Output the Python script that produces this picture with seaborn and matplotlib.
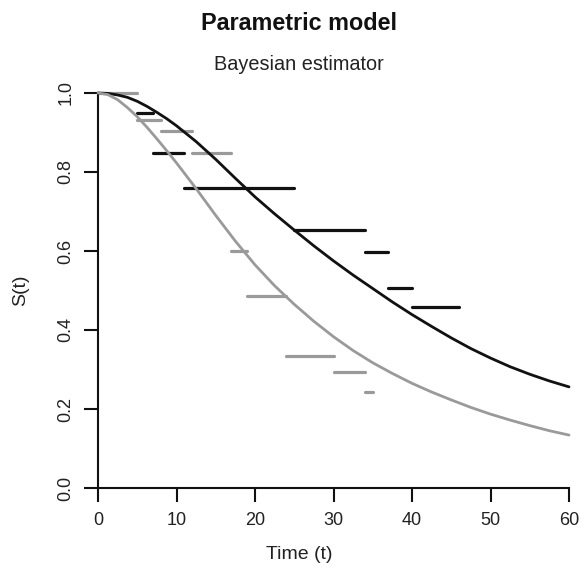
import numpy as np
import pandas as pd
import matplotlib
matplotlib.use("Agg")
import matplotlib.pyplot as plt
import seaborn as sns

# waktu (t) untuk kurva parametrik
time_grid = [0, 1.25, 2.5, 3.75, 5, 6.25, 7.5, 8.75, 10, 12.5, 15, 17.5, 20,
             22.5, 25, 27.5, 30, 32.5, 35, 37.5, 40, 42.5, 45, 47.5, 50,
             52.5, 55, 57.5, 60]

# kurva S(t) hitam dan abu-abu
surv_black = [1.000, 0.999, 0.995, 0.989, 0.979, 0.966, 0.951, 0.935, 0.917,
              0.877, 0.832, 0.784, 0.737, 0.694, 0.653, 0.613, 0.575, 0.539,
              0.505, 0.471, 0.439, 0.409, 0.380, 0.353, 0.329, 0.307, 0.288,
              0.271, 0.256]
surv_gray = [1.000, 0.996, 0.983, 0.963, 0.940, 0.913, 0.884, 0.854, 0.823,
             0.758, 0.690, 0.625, 0.565, 0.512, 0.465, 0.422, 0.383, 0.348,
             0.317, 0.290, 0.265, 0.243, 0.223, 0.204, 0.187, 0.172, 0.158,
             0.145, 0.134]

# segmen horizontal (interval) hitam
seg_black_start = [5, 7, 11, 25, 34, 37, 40]
seg_black_end = [7, 11, 25, 34, 37, 40, 46]
seg_black_s = [0.950, 0.849, 0.760, 0.653, 0.598, 0.506, 0.459]

# segmen horizontal abu-abu
seg_gray_start = [0, 5, 8, 12, 17, 19, 24, 30, 34]
seg_gray_end = [5, 8, 12, 17, 19, 24, 30, 34, 35]
seg_gray_s = [1.000, 0.932, 0.905, 0.849, 0.601, 0.485, 0.334, 0.293, 0.244]

x_ticks = [0, 10, 20, 30, 40, 50, 60]
y_ticks = [0.0, 0.2, 0.4, 0.6, 0.8, 1.0]

BLACK = "#111111"
GRAY = "#9a9a9a"

sns.set_theme(style="ticks")
plt.rcParams['font.family'] = ['Liberation Sans', 'DejaVu Sans']

df_curve = pd.DataFrame({
    't': time_grid * 2,
    'S': surv_black + surv_gray,
    'grup': ['hitam'] * len(time_grid) + ['abu'] * len(time_grid),
})

W, H = 584, 568
fig = plt.figure(figsize=(W / 100, H / 100), dpi=100)
ax = fig.add_axes([98 / W, 1 - 488 / H, (569 - 98) / W, (488 - 93) / H])

# segmen dulu, kurva di atasnya
ax.hlines(seg_black_s, seg_black_start, seg_black_end, colors=BLACK,
          linewidth=2.3, capstyle='round', clip_on=False, zorder=2)
ax.hlines(seg_gray_s, seg_gray_start, seg_gray_end, colors=GRAY,
          linewidth=2.3, capstyle='round', clip_on=False, zorder=2)

sns.lineplot(data=df_curve, x='t', y='S', hue='grup',
             palette={'hitam': BLACK, 'abu': GRAY}, estimator=None,
             linewidth=2.0, legend=False, ax=ax, zorder=3)
for ln in ax.lines:
    ln.set_clip_on(False)
    ln.set_solid_joinstyle('round')

ax.set_xlim(0, 60)
ax.set_ylim(0, 1)
ax.set_xticks(x_ticks)
ax.set_yticks(y_ticks)
ax.set_xticklabels([str(v) for v in x_ticks])
ax.set_yticklabels([f"{v:.1f}" for v in y_ticks], rotation=90, va='center')

sns.despine(ax=ax)
for side in ['left', 'bottom']:
    ax.spines[side].set_linewidth(1.5)
    ax.spines[side].set_color(BLACK)
ax.tick_params(axis='both', length=10, width=1.5, color=BLACK,
               labelsize=13, pad=7, labelcolor='#222222')

ax.set_xlabel('Time (t)', fontsize=14, color='#222222')
ax.set_ylabel('S(t)', fontsize=14, color='#222222')
ax.xaxis.set_label_coords((299 - 98) / 471, -(546 - 488) / 395)
ax.yaxis.set_label_coords(-(98 - 29) / 471, 0.5)

fig.text(299 / W, 1 - 23 / H, 'Parametric model', ha='center', va='center',
         fontsize=16.8, fontweight='bold', color='#111111')
fig.text(299 / W, 1 - 65 / H, 'Bayesian estimator', ha='center', va='center',
         fontsize=14.3, color='#222222')

fig.savefig('out.png', dpi=100)
